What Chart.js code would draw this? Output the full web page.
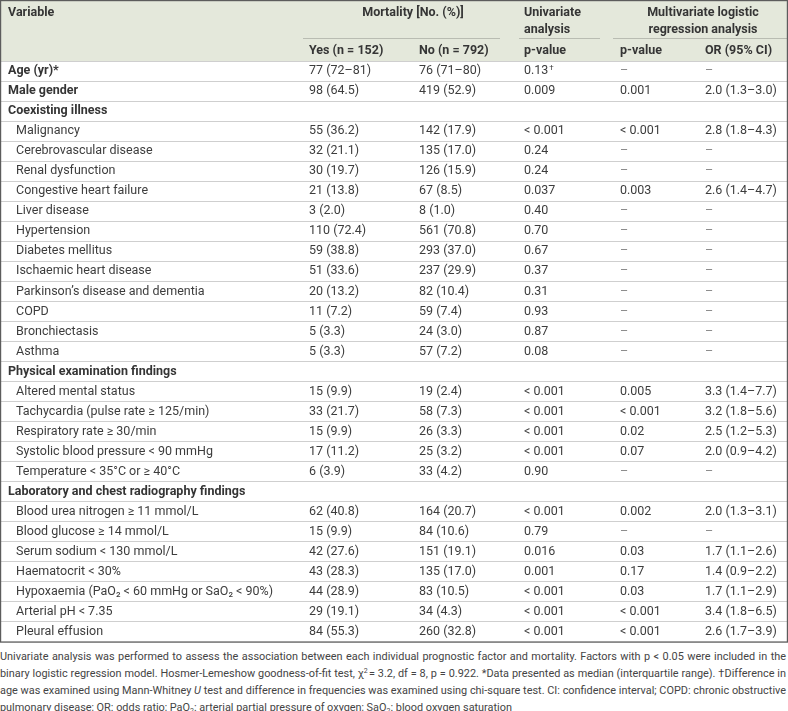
<!DOCTYPE html>
<html>
<head>
<meta charset="utf-8">
<title>Prognostic factors and mortality</title>
<script src="https://cdn.jsdelivr.net/npm/chart.js@4.4.1/dist/chart.umd.min.js"></script>
<style>
  html, body { margin: 0; padding: 0; background: #fff; }
  #wrap { width: 788px; height: 645px; }
  .note { width: 786px; margin-top: 3px; font-family: Roboto, "Liberation Sans", sans-serif;
          font-size: 10.9px; line-height: 17px; color: #444; }
  .note div { text-align: justify; text-align-last: justify; white-space: nowrap; }
  .note div.last { text-align-last: left; }
  .note sub { font-size: 7px; vertical-align: -2px; line-height: 0; }
  .note sup { font-size: 7px; vertical-align: 4px; line-height: 0; }
</style>
</head>
<body>
<div id="wrap"><canvas id="tbl" width="788" height="645"></canvas></div>
<div class="note">
  <div>Univariate analysis was performed to assess the association between each individual prognostic factor and mortality. Factors with p &lt; 0.05 were included in the</div>
  <div>binary logistic regression model. Hosmer-Lemeshow goodness-of-fit test, &chi;<sup>2</sup>&#8202;= 3.2, df = 8, p = 0.922. *Data presented as median (interquartile range). &dagger;Difference in</div>
  <div>age was examined using Mann-Whitney <i>U</i> test and difference in frequencies was examined using chi-square test. CI: confidence interval; COPD: chronic obstructive</div>
  <div class="last">pulmonary disease; OR: odds ratio; PaO<sub>2</sub>: arterial partial pressure of oxygen; SaO<sub>2</sub>: blood oxygen saturation</div>
</div>
<script>
// Lignes du tableau (vide = titre de section)
const variables = [
  "Age (yr)*", "Male gender",
  "Coexisting illness",
  "Malignancy", "Cerebrovascular disease", "Renal dysfunction", "Congestive heart failure",
  "Liver disease", "Hypertension", "Diabetes mellitus", "Ischaemic heart disease",
  "Parkinson\u2019s disease and dementia", "COPD", "Bronchiectasis", "Asthma",
  "Physical examination findings",
  "Altered mental status", "Tachycardia (pulse rate \u2265 125/min)", "Respiratory rate \u2265 30/min",
  "Systolic blood pressure < 90 mmHg", "Temperature < 35\u00b0C or \u2265 40\u00b0C",
  "Laboratory and chest radiography findings",
  "Blood urea nitrogen \u2265 11 mmol/L", "Blood glucose \u2265 14 mmol/L", "Serum sodium < 130 mmol/L",
  "Haematocrit < 30%", "Hypoxaemia (PaO\u2082 < 60 mmHg or SaO\u2082 < 90%)", "Arterial pH < 7.35",
  "Pleural effusion"
];

const mortalityYes = [
  "77 (72\u201381)", "98 (64.5)", "",
  "55 (36.2)", "32 (21.1)", "30 (19.7)", "21 (13.8)", "3 (2.0)", "110 (72.4)", "59 (38.8)",
  "51 (33.6)", "20 (13.2)", "11 (7.2)", "5 (3.3)", "5 (3.3)", "",
  "15 (9.9)", "33 (21.7)", "15 (9.9)", "17 (11.2)", "6 (3.9)", "",
  "62 (40.8)", "15 (9.9)", "42 (27.6)", "43 (28.3)", "44 (28.9)", "29 (19.1)", "84 (55.3)"
];

const mortalityNo = [
  "76 (71\u201380)", "419 (52.9)", "",
  "142 (17.9)", "135 (17.0)", "126 (15.9)", "67 (8.5)", "8 (1.0)", "561 (70.8)", "293 (37.0)",
  "237 (29.9)", "82 (10.4)", "59 (7.4)", "24 (3.0)", "57 (7.2)", "",
  "19 (2.4)", "58 (7.3)", "26 (3.3)", "25 (3.2)", "33 (4.2)", "",
  "164 (20.7)", "84 (10.6)", "151 (19.1)", "135 (17.0)", "83 (10.5)", "34 (4.3)", "260 (32.8)"
];

const univariateP = [
  "0.13\u2020", "0.009", "",
  "< 0.001", "0.24", "0.24", "0.037", "0.40", "0.70", "0.67", "0.37", "0.31", "0.93", "0.87", "0.08", "",
  "< 0.001", "< 0.001", "< 0.001", "< 0.001", "0.90", "",
  "< 0.001", "0.79", "0.016", "0.001", "< 0.001", "< 0.001", "< 0.001"
];

const multivariateP = [
  "\u2013", "0.001", "",
  "< 0.001", "\u2013", "\u2013", "0.003", "\u2013", "\u2013", "\u2013", "\u2013", "\u2013", "\u2013", "\u2013", "\u2013", "",
  "0.005", "< 0.001", "0.02", "0.07", "\u2013", "",
  "0.002", "\u2013", "0.03", "0.17", "0.03", "< 0.001", "< 0.001"
];

const oddsRatio = [
  "\u2013", "2.0 (1.3\u20133.0)", "",
  "2.8 (1.8\u20134.3)", "\u2013", "\u2013", "2.6 (1.4\u20134.7)", "\u2013", "\u2013", "\u2013", "\u2013", "\u2013", "\u2013", "\u2013", "\u2013", "",
  "3.3 (1.4\u20137.7)", "3.2 (1.8\u20135.6)", "2.5 (1.2\u20135.3)", "2.0 (0.9\u20134.2)", "\u2013", "",
  "2.0 (1.3\u20133.1)", "\u2013", "1.7 (1.1\u20132.6)", "1.4 (0.9\u20132.2)", "1.7 (1.1\u20132.9)", "3.4 (1.8\u20136.5)", "2.6 (1.7\u20133.9)"
];

const subHeaders = ["Yes (n = 152)", "No (n = 792)", "p-value", "p-value", "OR (95% CI)"];

// Mise en page (unités de l'axe x = px)
const FONT = "Roboto, 'Liberation Sans', sans-serif";
const SIZE = "12.5px ";
const colX = [309, 419, 524, 620, 705];
const labelX = 8, indentX = 16;
const headerH = 61;
const firstSection = mortalityYes.indexOf("");

function drawCell(ctx, text, x, y) {
  if (text === "\u2013") {
    ctx.fillStyle = "#8a8a8a";
    ctx.fillText(text, x, y);
    return;
  }
  ctx.fillStyle = "#3d3d3d";
  if (text.endsWith("\u2020")) {
    const main = text.slice(0, -1);
    ctx.fillText(main, x, y);
    const w = ctx.measureText(main).width;
    const f = ctx.font;
    ctx.font = "8px " + FONT;
    ctx.fillText("\u2020", x + w + 1, y - 3);
    ctx.font = f;
    return;
  }
  ctx.fillText(text, x, y);
}

const tablePlugin = {
  id: "tablePlugin",
  beforeDraw(chart) {
    const ctx = chart.ctx;
    ctx.save();
    ctx.fillStyle = "#e4e8db";
    ctx.fillRect(0, 0, chart.width, headerH);
    ctx.restore();
  },
  afterDraw(chart) {
    const ctx = chart.ctx;
    const xs = chart.scales.x, ys = chart.scales.y;
    const area = chart.chartArea;
    const px = v => xs.getPixelForValue(v);
    ctx.save();
    ctx.textBaseline = "middle";

    // En-tête
    ctx.fillStyle = "#353535";
    ctx.font = "bold " + SIZE + FONT;
    ctx.textAlign = "left";
    ctx.fillText("Variable", px(labelX), 13);
    ctx.textAlign = "center";
    ctx.fillText("Mortality [No. (%)]", px(413), 13);
    ctx.fillText("Multivariate logistic", px(703), 13);
    ctx.fillText("regression analysis", px(703), 30);
    ctx.textAlign = "left";
    ctx.fillText("Univariate", px(colX[2]), 13);
    ctx.fillText("analysis", px(colX[2]), 30);
    subHeaders.forEach((t, j) => ctx.fillText(t, px(colX[j]), 51));

    ctx.strokeStyle = "#b9bcb2";
    ctx.lineWidth = 1;
    [[303, 500], [519, 600], [613, 788]].forEach(([a, b]) => {
      ctx.beginPath();
      ctx.moveTo(px(a), 38.5);
      ctx.lineTo(px(b), 38.5);
      ctx.stroke();
    });

    // Corps
    variables.forEach((name, i) => {
      const y = ys.getPixelForValue(i);
      const section = mortalityYes[i] === "";
      const bold = section || i < firstSection;
      ctx.font = (bold ? "bold " : "") + SIZE + FONT;
      ctx.fillStyle = bold ? "#353535" : "#3d3d3d";
      ctx.fillText(name, px(bold ? labelX : indentX), y);
      if (section) return;
      ctx.font = SIZE + FONT;
      [mortalityYes, mortalityNo, univariateP, multivariateP, oddsRatio].forEach((col, j) => {
        drawCell(ctx, col[i], px(colX[j]), y);
      });
    });

    // Cadre
    ctx.strokeStyle = "#5c5c5c";
    ctx.lineWidth = 1.2;
    ctx.strokeRect(0.6, 0.6, chart.width - 1.2, area.bottom - 0.6);
    ctx.restore();
  }
};

new Chart(document.getElementById("tbl"), {
  type: "bar",
  data: {
    labels: variables,
    datasets: [{ data: variables.map(() => null) }]
  },
  options: {
    indexAxis: "y",
    responsive: false,
    animation: false,
    events: [],
    layout: { padding: { top: headerH, left: 0, right: 0, bottom: 3 } },
    plugins: { legend: { display: false }, tooltip: { enabled: false } },
    scales: {
      x: { type: "linear", min: 0, max: 788, display: false },
      y: {
        type: "category",
        offset: true,
        ticks: { display: false },
        border: { display: false },
        grid: { offset: true, drawTicks: false, color: "#cfcfcf", lineWidth: 1 }
      }
    }
  },
  plugins: [tablePlugin]
});
</script>
</body>
</html>
